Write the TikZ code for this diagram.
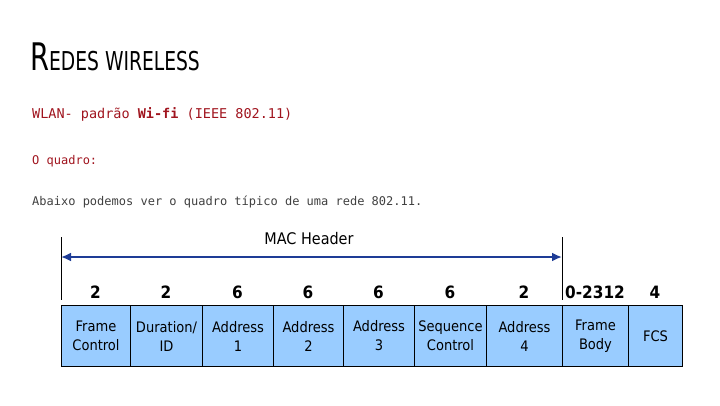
\documentclass[tikz,border=0pt]{standalone}
\usepackage{fontspec}
\setmainfont{DejaVu Sans}
\newfontfamily\monof{DejaVu Sans Mono}
\newfontfamily\condf{DejaVu Sans Condensed}
\usetikzlibrary{arrows.meta}
\definecolor{boxblue}{RGB}{153,204,255}
\definecolor{arrblue}{RGB}{30,60,150}
\definecolor{redtxt}{RGB}{160,20,30}
\begin{document}
\begin{tikzpicture}[x=1pt,y=-1pt,
  field/.style={draw=black,line width=1pt,fill=boxblue,anchor=north west,minimum height=61pt,inner sep=0pt,align=center,font=\condf\fontsize{14.5}{19}\selectfont},
  num/.style={font=\condf\bfseries\fontsize{17}{17}\selectfont},
  mono/.style={anchor=west,inner sep=0pt,font=\monof\fontsize{12}{12}\selectfont}]
\useasboundingbox (0,0) rectangle (720,405);
\node[anchor=west,inner sep=0pt,xscale=0.8,font=\condf\fontsize{38}{38}\selectfont] (title) at (30,57) {R\fontsize{26}{26}\selectfont EDES WIRELESS};
\node[mono,text=redtxt,font=\monof\fontsize{13.5}{14}\selectfont] (t1) at (32,114) {WLAN- padrão \textbf{Wi-fi} (IEEE 802.11)};
\node[mono,text=redtxt] (t2) at (32,161) {O quadro:};
\node[mono,text=black!75] (t3) at (32,202) {Abaixo podemos ver o quadro típico de uma rede 802.11.};
\foreach \n/\a/\b/\t/\s in {f1/61/130/{Frame\\Control}/2, f2/130/202/{Duration/\\ID}/2, f3/202/273/{Address\\1}/6, f4/273/343/{Address\\2}/6, f5/343/414/{Address\\3}/6, f6/414/486/{Sequence\\Control}/6, f7/486/562/{Address\\4}/2, f8/562/628/{Frame\\Body}/0-2312, f9/628/682/{FCS}/4}{
  \pgfmathsetmacro{\w}{\b-\a}
  \node[field,minimum width=\w pt] (\n) at (\a,305) {\t};
  \node[num] (n\n) at ({(\a+\b)/2},292) {\s};
}
\coordinate (l1) at (61,237); \coordinate (l1b) at (61,300);
\coordinate (l2) at (562,237); \coordinate (l2b) at (562,300);
\draw[line width=0.8pt] (l1) -- (l1b);
\draw[line width=0.8pt] (l2) -- (l2b);
\coordinate (a1) at (61,257); \coordinate (a2) at (562,257);
\draw[arrblue,line width=2pt,{Latex[length=10pt,width=9pt]}-{Latex[length=10pt,width=9pt]}] (a1) -- (a2);
\node[font=\condf\fontsize{16}{16}\selectfont] (mac) at (309,239) {MAC Header};
\end{tikzpicture}
\end{document}
